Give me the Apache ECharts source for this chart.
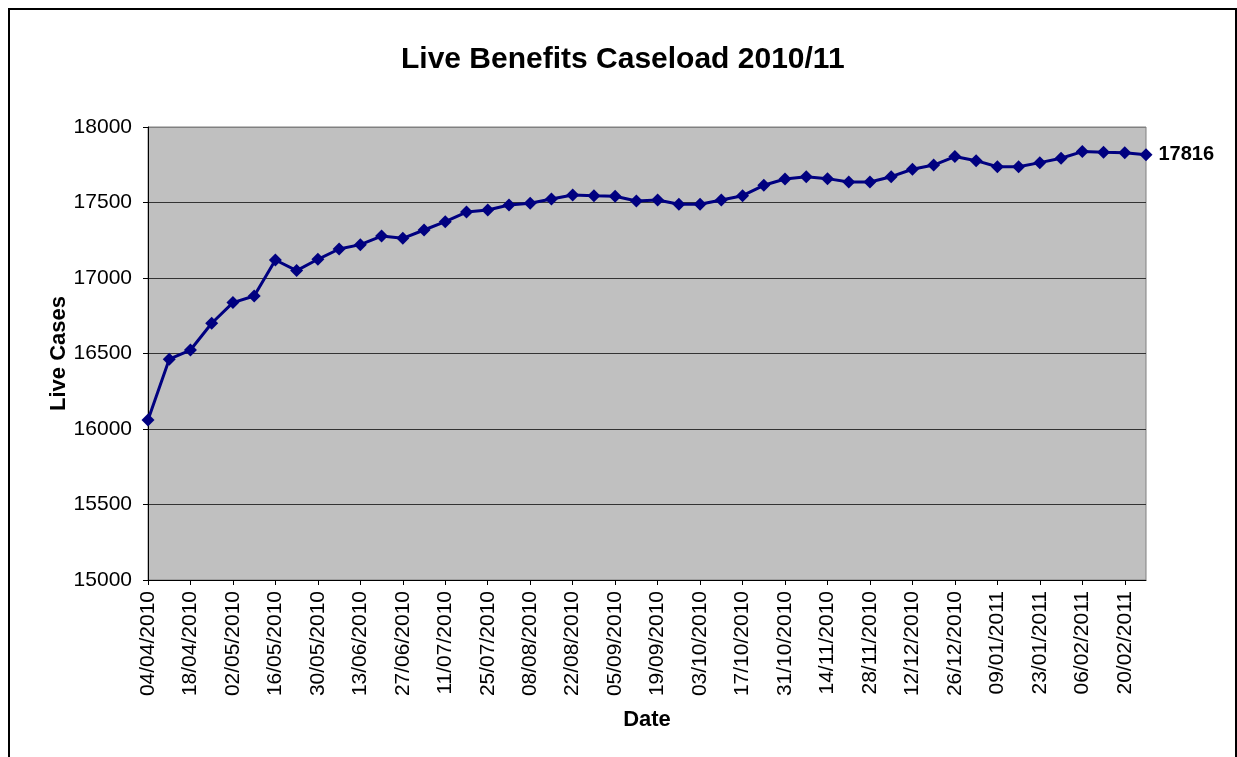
<!DOCTYPE html>
<html>
<head>
<meta charset="utf-8">
<title>Live Benefits Caseload 2010/11</title>
<script src="https://cdn.jsdelivr.net/npm/echarts@6/dist/echarts.min.js"></script>
<style>
  html, body { margin: 0; padding: 0; background: #ffffff; }
  #chart { width: 1237px; height: 757px; }
</style>
</head>
<body>
<div id="chart"></div>
<script>
// Week-commencing dates (weekly snapshots)
const weeks = [
  '04/04/2010','11/04/2010','18/04/2010','25/04/2010','02/05/2010','09/05/2010',
  '16/05/2010','23/05/2010','30/05/2010','06/06/2010','13/06/2010','20/06/2010',
  '27/06/2010','04/07/2010','11/07/2010','18/07/2010','25/07/2010','01/08/2010',
  '08/08/2010','15/08/2010','22/08/2010','29/08/2010','05/09/2010','12/09/2010',
  '19/09/2010','26/09/2010','03/10/2010','10/10/2010','17/10/2010','24/10/2010',
  '31/10/2010','07/11/2010','14/11/2010','21/11/2010','28/11/2010','05/12/2010',
  '12/12/2010','19/12/2010','26/12/2010','02/01/2011','09/01/2011','16/01/2011',
  '23/01/2011','30/01/2011','06/02/2011','13/02/2011','20/02/2011','27/02/2011'
];

// Live cases at each weekly snapshot
const liveCases = [
  16060, 16462, 16523, 16700, 16837, 16881, 17119, 17049, 17124, 17192, 17221, 17278,
  17263, 17318, 17373, 17437, 17450, 17483, 17495, 17523, 17550, 17545, 17541, 17510,
  17517, 17488, 17488, 17517, 17545, 17614, 17656, 17671, 17658, 17636, 17636, 17671,
  17720, 17748, 17804, 17777, 17737, 17737, 17764, 17793, 17837, 17832, 17830, 17816
];

const yMin = 15000, yMax = 18000, yStep = 500;

const FONT = '"Liberation Sans", Arial, sans-serif';

// Only the latest week carries a value label
const seriesData = liveCases.map((v, i) => i === liveCases.length - 1
  ? { value: v, label: { show: true, position: 'right', distance: 6,
      formatter: '{c}', color: '#000', fontFamily: FONT, fontWeight: 'bold', fontSize: 20 } }
  : v);

const chart = echarts.init(document.getElementById('chart'), null, { renderer: 'canvas' });

chart.setOption({
  animation: false,
  backgroundColor: '#ffffff',
  title: {
    text: 'Live Benefits Caseload 2010/11',
    left: 396, top: 40,
    textStyle: { fontFamily: FONT, fontWeight: 'bold', fontSize: 30, color: '#000' }
  },
  graphic: [{
    type: 'rect', silent: true, z: 100,
    shape: { x: 9, y: 9, width: 1227, height: 900 },
    style: { fill: 'none', stroke: '#000', lineWidth: 2 }
  }],
  grid: {
    left: 148, right: 91, top: 127, bottom: 177,
    show: true, backgroundColor: '#C0C0C0', borderColor: '#808080', borderWidth: 1
  },
  xAxis: {
    type: 'category',
    data: weeks,
    boundaryGap: false,
    name: 'Date',
    nameLocation: 'middle',
    nameGap: 129,
    nameMoveOverlap: false,
    nameTextStyle: { fontFamily: FONT, fontWeight: 'bold', fontSize: 22, color: '#000' },
    axisLine: { show: true, lineStyle: { color: '#000', width: 1 } },
    axisTick: { show: true, interval: 1, length: 5, lineStyle: { color: '#000' } },
    axisLabel: {
      interval: 1, rotate: 90, margin: 11,
      fontFamily: FONT, fontSize: 21, color: '#000'
    },
    splitLine: { show: false }
  },
  yAxis: {
    type: 'value',
    min: yMin, max: yMax, interval: yStep,
    name: 'Live Cases',
    nameLocation: 'middle',
    nameGap: 78,
    nameMoveOverlap: false,
    nameTextStyle: { fontFamily: FONT, fontWeight: 'bold', fontSize: 22, color: '#000' },
    axisLine: { show: true, lineStyle: { color: '#000', width: 1 } },
    axisTick: { show: true, length: 5, lineStyle: { color: '#000' } },
    axisLabel: {
      margin: 16, fontFamily: FONT, fontSize: 21, color: '#000',
      formatter: (v) => String(v)
    },
    splitLine: {
      show: true,
      lineStyle: { color: ['#000', '#333', '#333', '#333', '#333', '#333', '#808080'], width: 1 }
    }
  },
  series: [{
    type: 'line',
    data: seriesData,
    symbol: 'diamond',
    symbolSize: 13,
    showAllSymbol: true,
    lineStyle: { color: '#000080', width: 3 },
    itemStyle: { color: '#000080' },
    z: 5
  }]
});
</script>
</body>
</html>
